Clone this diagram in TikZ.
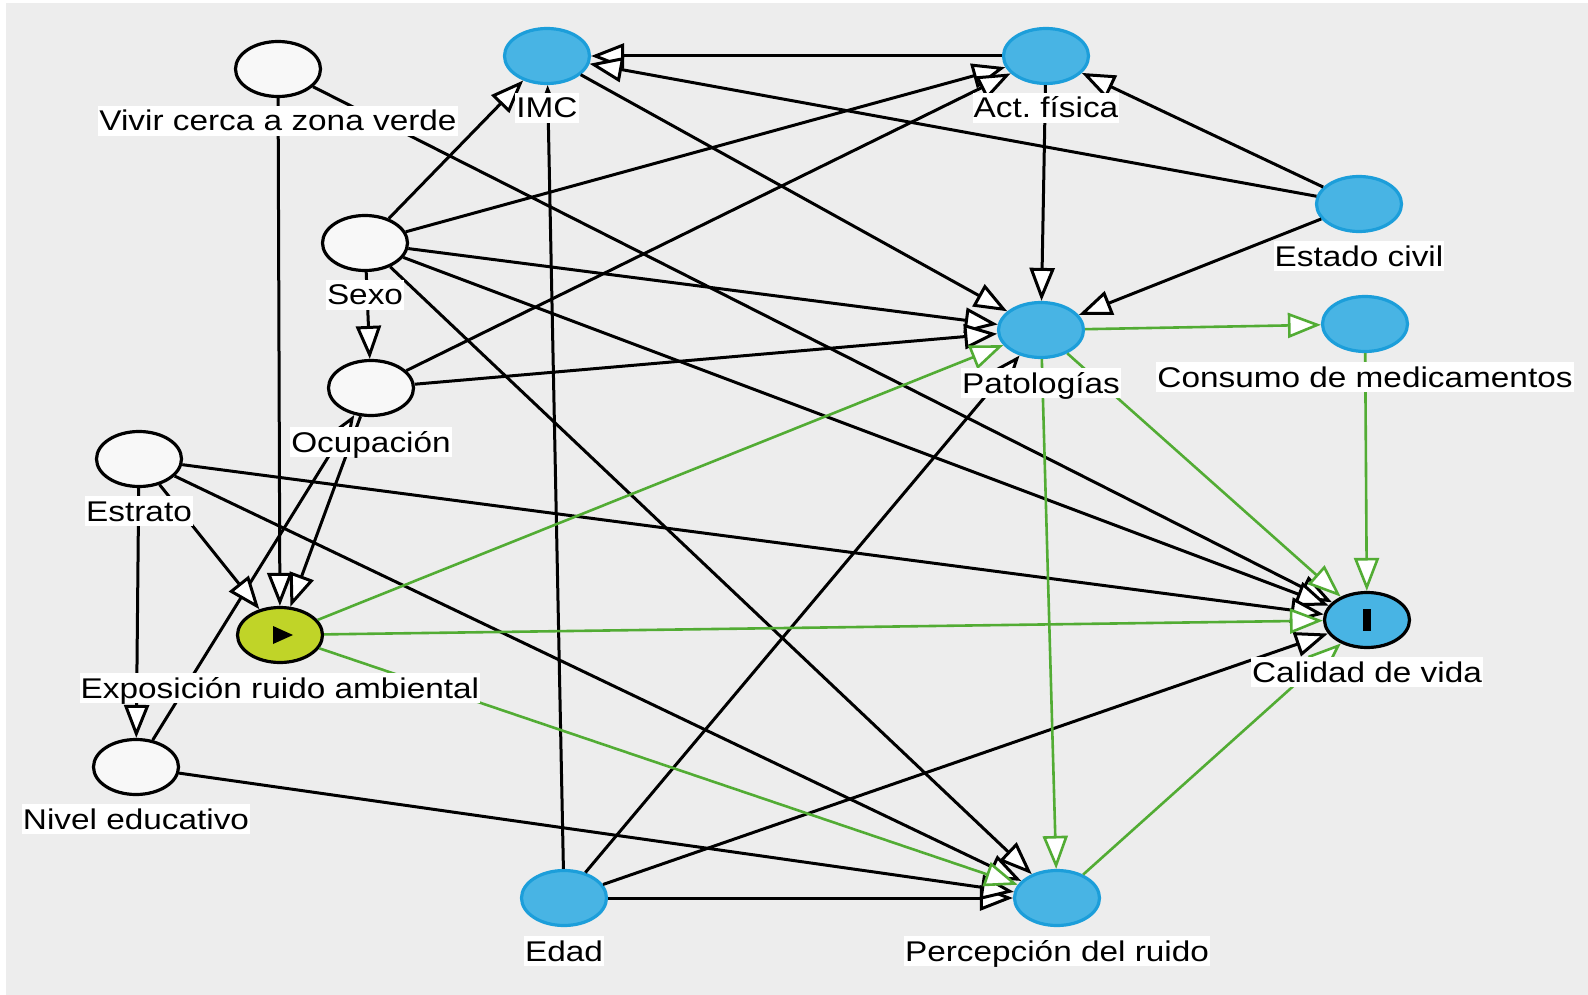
\documentclass[tikz,border=0pt]{standalone}
\usepackage{fontspec}
\setmainfont{Liberation Sans}
\usetikzlibrary{shapes.geometric,arrows.meta}
\definecolor{bgc}{RGB}{237,237,237}
\definecolor{nodeblue}{RGB}{72,180,228}
\definecolor{nodeblueb}{RGB}{28,158,218}
\definecolor{expoc}{RGB}{192,212,40}
\definecolor{causal}{RGB}{82,172,52}
\definecolor{wnode}{RGB}{248,248,248}
\newcommand\hs[1]{\scalebox{1.17}[1]{#1}}
\begin{document}
\frenchspacing
\begin{tikzpicture}[x=1pt,y=-1pt,
  var/.style={ellipse, minimum width=85pt, minimum height=55pt, inner sep=0pt, line width=3.2pt},
  latnode/.style={var, draw=black, fill=wnode},
  ancnode/.style={var, draw=nodeblueb, fill=nodeblue},
  exponode/.style={var, draw=black, fill=expoc},
  outnode/.style={var, draw=black, fill=nodeblue},
  lbl/.style={fill=white, inner xsep=1pt, inner ysep=0pt, text height=25pt, text depth=5pt, font=\fontsize{28.5}{30}\selectfont},
  edge/.style={line width=3pt, draw=black, -{Triangle[length=33pt,width=25pt,fill=white]}},
  cedge/.style={edge, draw=causal, line width=2.6pt}]
\useasboundingbox (0,0) rectangle (1588,995);
\fill[white] (0,0) rectangle (1588,995);
\fill[bgc] (6,3) rectangle (1588,995);
% nodes
\node[latnode] (vivir) at (278,69) {};
\node[ancnode] (imc) at (547,56) {};
\node[ancnode] (act) at (1046,56) {};
\node[ancnode] (estciv) at (1359,204) {};
\node[latnode] (sexo) at (365,243) {};
\node[ancnode] (pat) at (1041,330) {};
\node[ancnode] (cons) at (1365,324) {};
\node[latnode] (ocup) at (371,388) {};
\node[latnode] (estrato) at (139,459) {};
\node[exponode] (expo) at (280,635) {};
\node[outnode] (cal) at (1367,620) {};
\node[latnode] (nivel) at (136,767) {};
\node[ancnode] (edad) at (564,898) {};
\node[ancnode] (perc) at (1057,898) {};
% black edges
\draw[edge] (act) -- (imc);
\draw[edge] (estciv) -- (imc);
\draw[edge] (estciv) -- (act);
\draw[edge] (estciv) -- (pat);
\draw[edge] (act) -- (pat);
\draw[edge] (imc) -- (pat);
\draw[edge] (edad) -- (imc);
\draw[edge] (edad) -- (pat);
\draw[edge] (edad) -- (cal);
\draw[edge] (edad) -- (perc);
\draw[edge] (vivir) -- (expo);
\draw[edge] (vivir) -- (cal);
\draw[edge] (sexo) -- (imc);
\draw[edge] (sexo) -- (act);
\draw[edge] (sexo) -- (pat);
\draw[edge] (sexo) -- (cal);
\draw[edge] (sexo) -- (perc);
\draw[edge] (sexo) -- (ocup);
\draw[edge] (ocup) -- (act);
\draw[edge] (ocup) -- (pat);
\draw[edge] (ocup) -- (expo);
\draw[edge] (nivel) -- (ocup);
\draw[edge] (nivel) -- (perc);
\draw[edge] (estrato) -- (nivel);
\draw[edge] (estrato) -- (expo);
\draw[edge] (estrato) -- (cal);
\draw[edge] (estrato) -- (perc);
% causal (green) edges
\draw[cedge] (expo) -- (pat);
\draw[cedge] (expo) -- (cal);
\draw[cedge] (expo) -- (perc);
\draw[cedge] (pat) -- (cons);
\draw[cedge] (pat) -- (cal);
\draw[cedge] (pat) -- (perc);
\draw[cedge] (cons) -- (cal);
\draw[cedge] (perc) -- (cal);
% glyphs inside exposure and outcome
\fill[black] (expo.center) ++(-7,-9) -- ++(0,18) -- ++(20,-9) -- cycle;
\fill[black] (cal.center) ++(-4,-11) rectangle ++(8,22);
% labels
\node[lbl] (vivir-l) at (278,121) {\hs{Vivir cerca a zona verde}};
\node[lbl] (imc-l) at (547,108) {\hs{IMC}};
\node[lbl] (act-l) at (1046,108) {\hs{Act. física}};
\node[lbl] (estciv-l) at (1359,256) {\hs{Estado civil}};
\node[lbl] (sexo-l) at (365,295) {\hs{Sexo}};
\node[lbl] (pat-l) at (1041,383) {\hs{Patologías}};
\node[lbl] (cons-l) at (1365,377) {\hs{Consumo de medicamentos}};
\node[lbl] (ocup-l) at (371,442) {\hs{Ocupación}};
\node[lbl] (estrato-l) at (139,511) {\hs{Estrato}};
\node[lbl] (expo-l) at (280,688) {\hs{Exposición ruido ambiental}};
\node[lbl] (cal-l) at (1367,672) {\hs{Calidad de vida}};
\node[lbl] (nivel-l) at (136,819) {\hs{Nivel educativo}};
\node[lbl] (edad-l) at (564,951) {\hs{Edad}};
\node[lbl] (perc-l) at (1057,951) {\hs{Percepción del ruido}};
\end{tikzpicture}
\end{document}
